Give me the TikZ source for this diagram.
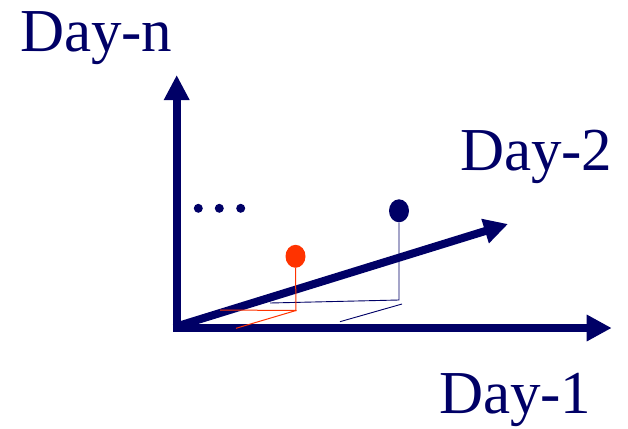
\documentclass[tikz,border=0pt]{standalone}
\usepackage{fontspec}
\setmainfont{Liberation Serif}
\usetikzlibrary{arrows.meta,shapes.geometric}
\definecolor{navy}{RGB}{0,0,102}
\definecolor{dotred}{RGB}{255,51,0}
\tikzset{
  axis/.style={draw=navy, line width=#1},
  lbl/.style={text=navy, font=\fontsize{61}{61}\selectfont, anchor=base west, inner sep=0pt, outer sep=0pt},
  bluedot/.style={ellipse, fill=navy, draw=none, minimum width=20pt, minimum height=23pt, inner sep=0pt},
  reddot/.style={ellipse, fill=dotred, draw=none, minimum width=20pt, minimum height=23pt, inner sep=0pt},
  dots/.style={circle, fill=navy, draw=none, minimum size=9pt, inner sep=0pt},
  projb/.style={draw=navy, line width=0.9pt},
  projr/.style={draw=dotred, line width=1pt},
}
\begin{document}
\begin{tikzpicture}[x=1pt,y=-1pt]
\useasboundingbox (0,0) rectangle (628,428);
% axes
\coordinate (o) at (178,326);
\coordinate (vb) at (176.7,331.7);
\coordinate (vt) at (176.7,75);
\coordinate (hb) at (172.7,328);
\coordinate (ht) at (611.7,328);
\coordinate (dt) at (508,224);
\draw[axis=8pt, -{Triangle[length=25pt,width=24pt]}] (vb) -- (vt);
\draw[axis=7.5pt, -{Triangle[length=25pt,width=25pt]}] (hb) -- (ht);
\draw[axis=8pt, -{Triangle[length=24pt,width=24pt]}] (o) -- (dt);
% labels
\node[lbl] (ln) at (20,51.7) {Day-n};
\node[lbl] (l2) at (460,170) {Day-2};
\node[lbl] (l1) at (439,413.3) {Day-1};
% dots
\node[dots] (d1) at (198.3,208.3) {};
\node[dots] (d2) at (219.3,208.3) {};
\node[dots] (d3) at (240.7,208.3) {};
% blue point
\node[bluedot] (bp) at (399,210.8) {};
\coordinate (bf) at (399,300);
\coordinate (bl) at (270,303);
\coordinate (bs1) at (340,321.7);
\coordinate (bs2) at (402,304);
\draw[projb] (bp.south) -- (bf) -- (bl);
\draw[projb] (bs1) -- (bs2);
% red point
\node[reddot] (rp) at (295.5,256.3) {};
\coordinate (rf) at (296,310.5);
\coordinate (rl) at (220,310);
\coordinate (rs) at (236,328.3);
\draw[projr] (rp.south) -- (rf) -- (rl);
\draw[projr] (rf) -- (rs);
\end{tikzpicture}
\end{document}
